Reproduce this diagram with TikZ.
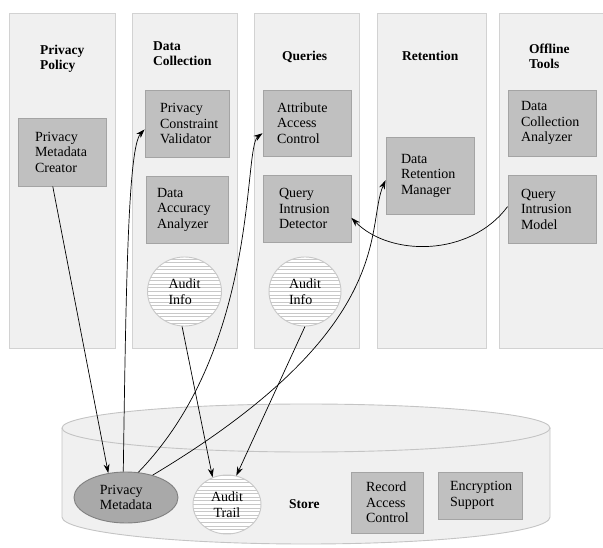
\documentclass[tikz,border=0pt]{standalone}
\usepackage{fontspec}
\setmainfont{LiberationSerif}[Extension=.ttf, UprightFont=*-Regular, BoldFont=*-Bold, ItalicFont=*-Italic, BoldItalicFont=*-BoldItalic]
\usetikzlibrary{arrows.meta,shapes.geometric}
\definecolor{colfill}{HTML}{F0F0F0}
\definecolor{colborder}{HTML}{D2D2D2}
\definecolor{boxfill}{HTML}{C0C0C0}
\definecolor{boxborder}{HTML}{A4A4A4}
\definecolor{pmfill}{HTML}{A9A9A9}
\definecolor{pmborder}{HTML}{808080}
\definecolor{stripe}{HTML}{C8C8C8}
\definecolor{cylborder}{HTML}{C4C4C4}
\newcommand\mybody{\rmfamily\fontsize{14}{15.5}\selectfont\hyphenpenalty=10000 }
\newcommand\mytitle{\rmfamily\fontsize{13.5}{15}\selectfont\bfseries\hyphenpenalty=10000 }
\tikzset{
  col/.style={draw=colborder, fill=colfill, line width=0.9pt},
  box/.style={draw=boxborder, fill=boxfill, line width=0.9pt, align=left,
    inner ysep=0pt, font=\mybody, rectangle},
  coltitle/.style={font=\mytitle, align=left, inner sep=0pt, anchor=north west},
  audit/.style={ellipse, draw=stripe, line width=0.9pt, fill=white, align=left,
    inner sep=0pt, font=\mybody,
    path picture={\foreach \k in {-12,...,12}
      \draw[stripe, line width=1.1pt]
        ([yshift=\k*3.6pt]path picture bounding box.west) --
        ([yshift=\k*3.6pt]path picture bounding box.east);}},
  arr/.style={-{Stealth[length=9pt,width=6pt]}, line width=0.7pt, black},
}
\begin{document}
\begin{tikzpicture}[x=1pt,y=1pt]
\useasboundingbox (0,0) rectangle (603,547);
% columns
\draw[col] (9,199) rectangle (115,534);
\draw[col] (132,199) rectangle (237,534);
\draw[col] (254,199) rectangle (359,534);
\draw[col] (377,199) rectangle (486,534);
\draw[col] (499,199) rectangle (608,534);
% titles
\node[coltitle] (t1) at (40,502) {Privacy\\Policy};
\node[coltitle] (t2) at (153,506) {Data\\Collection};
\node[coltitle, anchor=base west] (t3) at (282,486) {Queries};
\node[coltitle, anchor=base west] (t4) at (402,486) {Retention};
\node[coltitle] (t5) at (529,503) {Offline\\Tools};
% store cylinder
\fill[colfill] (62,119) -- (62,30) arc[start angle=180, end angle=360, x radius=244, y radius=27]
  -- (550,119) arc[start angle=0, end angle=180, x radius=244, y radius=24] -- cycle;
\draw[cylborder, line width=0.9pt] (62,119) -- (62,30) arc[start angle=180, end angle=360, x radius=244, y radius=27] -- (550,119);
\draw[cylborder, line width=0.9pt] (306,119) ellipse[x radius=244, y radius=24];
% boxes
\node[box, text width=54pt, inner xsep=17pt, minimum height=68pt] (pmc) at (62,395) {Privacy\\Metadata\\Creator};
\node[box, text width=54pt, inner xsep=15pt, minimum height=67pt] (pcv) at (187,423.5) {Privacy\\Constraint\\Validator};
\node[box, text width=60pt, inner xsep=11pt, minimum height=67pt] (daa) at (187,337.5) {Data\\Accuracy\\Analyzer};
\node[box, text width=60pt, inner xsep=14pt, minimum height=66pt] (aac) at (307,424) {Attribute\\Access\\Control};
\node[box, text width=56pt, inner xsep=16pt, minimum height=67pt] (qid) at (307,338.5) {Query\\Intrusion\\Detector};
\node[box, text width=58pt, inner xsep=15pt, minimum height=77pt] (drm) at (430,371.5) {Data\\Retention\\Manager};
\node[box, text width=62pt, inner xsep=13pt, minimum height=66pt] (dca) at (552,424) {Data\\Collection\\Analyzer};
\node[box, text width=62pt, inner xsep=13pt, minimum height=68pt] (qim) at (552,338) {Query\\Intrusion\\Model};
% audit info
\node[audit, minimum width=74pt, minimum height=69pt] (ai1) at (184.5,255.5) {Audit\\Info};
\node[audit, minimum width=72pt, minimum height=69pt] (ai2) at (305,255.5) {Audit\\Info};
% store contents
\node[ellipse, draw=pmborder, fill=pmfill, line width=0.9pt, align=left, inner sep=0pt,
  font=\mybody, minimum width=104pt, minimum height=51pt] (pm) at (126,49.5) {Privacy\\Metadata};
\node[audit, align=center, minimum width=68pt, minimum height=59pt] (at) at (227,42.5) {Audit\\Trail};
\node[font=\mytitle, anchor=base west, inner sep=0pt] (store) at (289,39) {Store};
\node[box, text width=42pt, inner xsep=15pt, minimum height=61pt] (rac) at (387,44.5) {Record\\Access\\Control};
\node[box, text width=60pt, inner xsep=12pt, minimum height=47pt] (es) at (480,51.5) {Encryption\\Support};
% connectors
\draw[arr] (pmc.-105) -- (pm.126);
\draw[arr] (pm.96) .. controls (126,260) and (128,400) .. (pcv.188);
\draw[arr] (pm.64) .. controls (260,200) and (243,400) .. (aac.193);
\draw[arr] (pm.40) .. controls (400,220) and (365,320) .. (drm.186);
\draw[arr] (ai1.-94) -- (at.118);
\draw[arr] (ai2.-90) -- (at.72);
\draw[arr] (qim.177) .. controls (470,290) and (390,290) .. (qid.-12);
\end{tikzpicture}
\end{document}
